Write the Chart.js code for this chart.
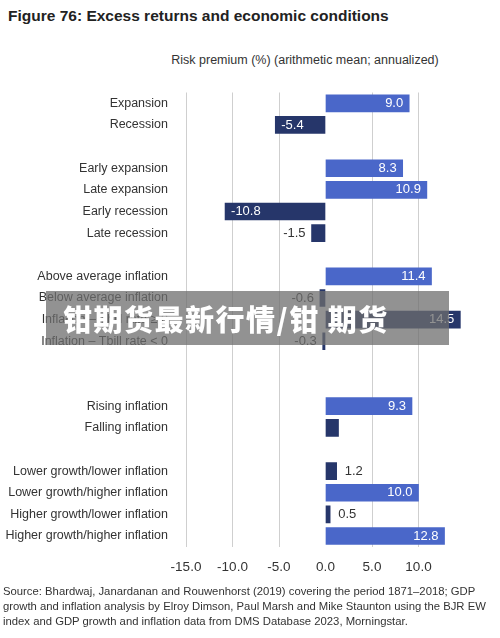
<!DOCTYPE html><html><head><meta charset="utf-8">
<script src="https://cdn.jsdelivr.net/npm/chart.js@4"></script>
<style>body{margin:0;width:500px;height:638px;background:#fff;font-family:"Liberation Sans",Arial,sans-serif;position:relative;overflow:hidden}
#t{position:absolute;left:8px;top:7px;font-size:15.5px;font-weight:bold;color:#222}
#s{position:absolute;left:0;width:610px;text-align:center;top:53px;font-size:12.5px;color:#333}
#src{position:absolute;left:3px;top:584px;font-size:11.3px;line-height:15px;color:#333}
#wm{position:absolute;left:46px;top:291px;width:403px;height:54px;background:rgba(110,110,110,0.75);color:#fff;font-family:"Noto Sans CJK SC";font-weight:900;font-size:29px;letter-spacing:1.5px;line-height:54px;padding-left:17px;box-sizing:border-box}
#c{position:absolute;left:0;top:75px}</style></head><body>
<div id="t">Figure 76: Excess returns and economic conditions</div>
<div id="s">Risk premium (%) (arithmetic mean; annualized)</div>
<canvas id="c" width="500" height="512"></canvas>
<div id="src">Source: Bhardwaj, Janardanan and Rouwenhorst (2019) covering the period 1871–2018; GDP<br>growth and inflation analysis by Elroy Dimson, Paul Marsh and Mike Staunton using the BJR EW<br>index and GDP growth and inflation data from DMS Database 2023, Morningstar.</div>
<div id="wm">钳期货最新行情/钳 期货</div>
<script>
const categories=["Expansion","Recession","","Early expansion","Late expansion","Early recession","Late recession","","Above average inflation","Below average inflation","Inflation – Tbill rate ≥ 0","Inflation – Tbill rate < 0","","","Rising inflation","Falling inflation","","Lower growth/lower inflation","Lower growth/higher inflation","Higher growth/lower inflation","Higher growth/higher inflation"];
const values=[9.0,-5.4,null,8.3,10.9,-10.8,-1.5,null,11.4,-0.6,14.5,-0.3,null,null,9.3,1.4,null,1.2,10.0,0.5,12.8];
const valueLabels=["9.0","-5.4","","8.3","10.9","-10.8","-1.5","","11.4","-0.6","14.5","-0.3","","","9.3","","","1.2","10.0","0.5","12.8"];
const light=[1,0,0,1,1,0,0,0,1,0,0,0,0,0,1,0,0,0,1,0,1];
const tickLabels=["-15.0","-10.0","-5.0","0.0","5.0","10.0"];
const LB="#4a67c9",DK="#26366a";
const lbl={id:'lbl',afterDatasetsDraw(ch){const ctx=ch.ctx;const m=ch.getDatasetMeta(0);ctx.save();ctx.font='13px "Liberation Sans",Arial';ctx.textBaseline='middle';
m.data.forEach((b,i)=>{const v=values[i],t=valueLabels[i];if(v==null||!t)return;const x0=ch.scales.x.getPixelForValue(0);const w=Math.abs(b.x-x0);
if(w>30){ctx.fillStyle='#fff';if(v>0){ctx.textAlign='right';ctx.fillText(t,b.x-6,b.y)}else{ctx.textAlign='left';ctx.fillText(t,b.x+6,b.y)}}
else{ctx.fillStyle='#333';if(v>0){ctx.textAlign='left';ctx.fillText(t,b.x+8,b.y)}else{ctx.textAlign='right';ctx.fillText(t,b.x-6,b.y)}}});ctx.restore();}};
new Chart(document.getElementById('c'),{type:'bar',data:{labels:categories,datasets:[{data:values,backgroundColor:light.map(l=>l?LB:DK),barThickness:17}]},
options:{indexAxis:'y',responsive:false,animation:false,layout:{padding:{top:0,right:35}},plugins:{legend:{display:false},tooltip:{enabled:false}},
scales:{x:{min:-15,max:15,border:{display:false},grid:{color:c=>(c.tick&&(c.tick.value==0||c.tick.value==15))?'rgba(0,0,0,0)':'#cfcfcf',drawTicks:false},
ticks:{stepSize:5,padding:12,color:'#333',font:{size:13.5,family:'"Liberation Sans",Arial'},callback:(v)=>{const i=(v+15)/5;return tickLabels[i]||''}}},
y:{border:{display:false},grid:{display:false},afterFit:a=>{a.width=186},ticks:{padding:10,color:'#333',font:{size:12.5,family:'"Liberation Sans",Arial'}}}}},plugins:[lbl]});
</script></body></html>
